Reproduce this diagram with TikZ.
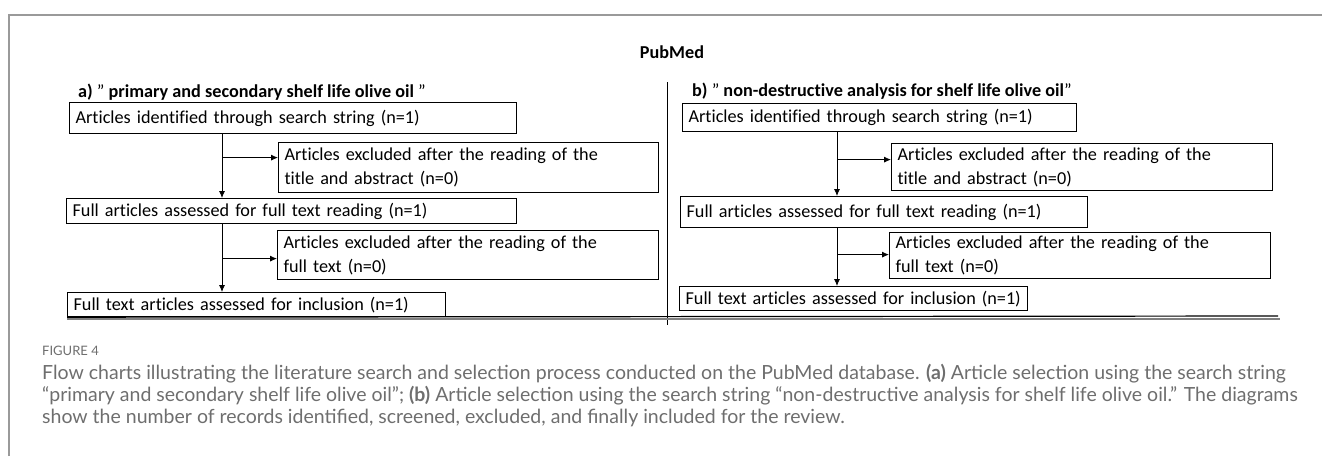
\documentclass[tikz,border=0pt]{standalone}
\usepackage{fontspec}
\setmainfont{Carlito}[Ligatures=NoCommon]
\newfontfamily\capfont{Lato}
\usetikzlibrary{arrows.meta}
\definecolor{framegray}{HTML}{9A9A9A}
\definecolor{capgray}{HTML}{6E6E6E}

\begin{document}
\begin{tikzpicture}[x=1pt,y=-1pt,
    box/.style={draw,line width=1.2pt,anchor=north west,inner xsep=6pt,inner ysep=0pt,
      align=left,font=\fontsize{18.2}{24}\selectfont},
    title/.style={anchor=west,inner sep=0pt,font=\fontsize{18.2}{20}\selectfont},
    arr/.style={-{Latex[length=7pt,width=6pt]},line width=0.8pt}]
  \useasboundingbox (0,0) rectangle (1322,456);
  % frame
  \draw[framegray,line width=1.5pt] (9,456) -- (9,15) -- (1322,15);
  \node[font=\bfseries\fontsize{18.2}{20}\selectfont] (pubmed) at (672,52) {PubMed};
  % a) left flow
  \node[title] (ta) at (78,92) {\textbf{a)} ” \textbf{primary and secondary shelf life olive oil} ”};
  \node[box,text width=435pt,minimum height=31pt] (a1) at (69,102)
    {\mbox{Articles identified through search string (n=1)}};
  \node[box,text width=368pt,minimum height=50pt] (e1) at (278,142)
    {Articles excluded after the reading of the\\title and abstract (n=0)};
  \node[box,text width=438pt,minimum height=25pt] (a2) at (66,198)
    {\mbox{Full articles assessed for full text reading (n=1)}};
  \node[box,text width=369pt,minimum height=49pt] (e2) at (277,230)
    {Articles excluded after the reading of the\\full text (n=0)};
  \node[box,text width=366pt,minimum height=24pt] (a3) at (67,292)
    {\mbox{Full text articles assessed for inclusion (n=1)}};
  \coordinate (ax) at (222,0);
  % b) right flow
  \node[title] (tb) at (692,91) {\textbf{b)} ” \textbf{non-destructive analysis for shelf life olive oil}”};
  \node[box,text width=382pt,minimum height=28pt] (b1) at (682,103)
    {\mbox{Articles identified through search string (n=1)}};
  \node[box,text width=369pt,minimum height=47pt] (f1) at (891,143)
    {Articles excluded after the reading of the\\title and abstract (n=0)};
  \node[box,text width=395pt,minimum height=31pt] (b2) at (680,196)
    {\mbox{Full articles assessed for full text reading (n=1)}};
  \node[box,text width=369pt,minimum height=46pt] (f2) at (889,232)
    {Articles excluded after the reading of the\\full text (n=0)};
  \node[box,text width=336pt,minimum height=24pt] (b3) at (679,286)
    {\mbox{Full text articles assessed for inclusion (n=1)}};
  \coordinate (bx) at (837,0);
  \begin{scope}[arr]
    \draw (a1.south -| ax) -- (a2.north -| ax);
    \draw (a2.south -| ax) -- (a3.north -| ax);
    \draw ([yshift=10pt]e1.west -| ax) -- ([yshift=10pt]e1.west);
    \draw ([yshift=-3.5pt]e2.west -| ax) -- ([yshift=-3.5pt]e2.west);
    \draw (b1.south -| bx) -- (b2.north -| bx);
    \draw (b2.south -| bx) -- (b3.north -| bx);
    \draw ([yshift=7.5pt]f1.west -| bx) -- ([yshift=7.5pt]f1.west);
    \draw ([yshift=1pt]f2.west -| bx) -- ([yshift=1pt]f2.west);
  \end{scope}
  % divider and base line
  \draw[line width=0.9pt] (667,82) -- (667,325);
  \draw[gray,line width=2pt] (67,319) -- (1280,319);
  \draw[line width=1.2pt] (a3.south west) -- (1278,316);
  % caption
  \node[anchor=north west,inner sep=0pt,text=capgray,font=\capfont\fontsize{13}{15}\selectfont]
    (fig) at (42,346) {FIGURE 4};
  \node[anchor=north west,inner sep=0pt,align=left,text=capgray,
    font=\capfont\fontsize{19.5}{22}\selectfont] (cap) at (42,364)
    {Flow charts illustrating the literature search and selection process conducted on the PubMed database. \textbf{(a)} Article selection using the search string\\
     “primary and secondary shelf life olive oil”; \textbf{(b)} Article selection using the search string “non-destructive analysis for shelf life olive oil.” The diagrams\\
     show the number of records identified, screened, excluded, and finally included for the review.};
\end{tikzpicture}
\end{document}
